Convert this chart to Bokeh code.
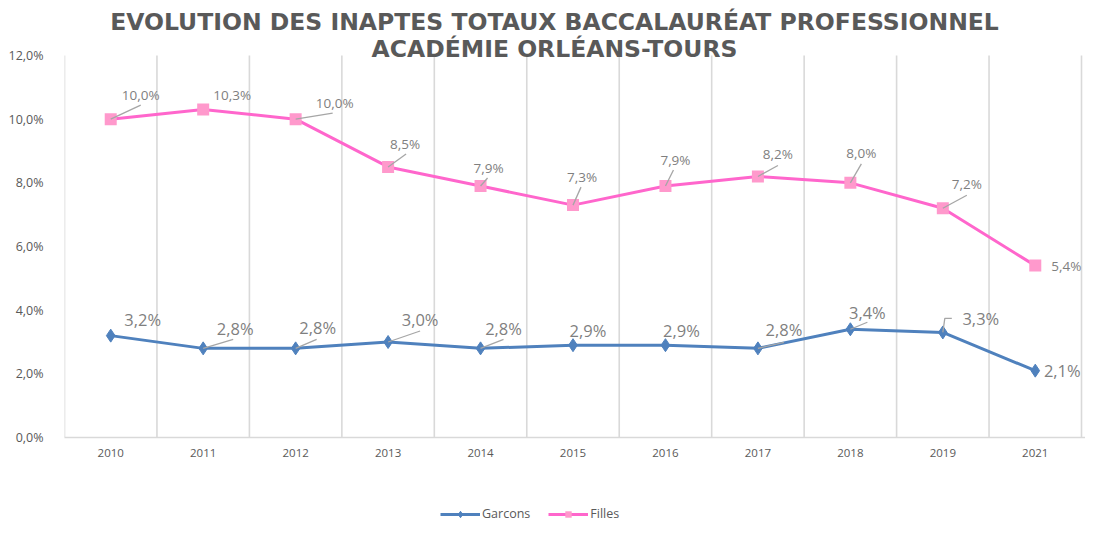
from bokeh.plotting import figure
from bokeh.models import Label, Legend, LegendItem, FixedTicker, Range1d
from bokeh.layouts import column
from bokeh.embed import file_html
from bokeh.resources import INLINE

# ---------------- data ----------------
years = ["2010", "2011", "2012", "2013", "2014", "2015", "2016", "2017", "2018", "2019", "2021"]
garcons = [3.2, 2.8, 2.8, 3.0, 2.8, 2.9, 2.9, 2.8, 3.4, 3.3, 2.1]
filles = [10.0, 10.3, 10.0, 8.5, 7.9, 7.3, 7.9, 8.2, 8.0, 7.2, 5.4]
y_ticks = [0, 2, 4, 6, 8, 10, 12]
y_tick_labels = ["0,0%", "2,0%", "4,0%", "6,0%", "8,0%", "10,0%", "12,0%"]
title_lines = ["EVOLUTION DES INAPTES TOTAUX BACCALAURÉAT PROFESSIONNEL",
               "ACADÉMIE ORLÉANS-TOURS"]
series_names = ["Garcons", "Filles"]

# ---------------- style ----------------
W = 1085
H_MAIN, H_LEG = 470, 53
B_LEFT = 64
AXIS_TOP_PX = 55          # pixel row of the 12 % level
AXIS_BOTTOM_PX = 437      # pixel row of the 0 % level
GRID_RIGHT_PX = 1081      # last category boundary
TITLE_CX = 554
TITLE_CY = [21, 48]
BLUE = "#4f81bd"
PINK_LINE = "#ff66cc"
PINK_MARK = "#ff99cc"
GRID = "#d9d9d9"
TXT = "#595959"
LBL = "#7f7f7f"
LEAD = "#a6a6a6"
FONT = "Open Sans"

# label offsets in screen px (dx right, dy down) relative to the point
pink_label_off = [(30, -24), (29, -15), (39, -16), (17, -23), (8, -18), (9, -28),
                  (10, -26), (20, -22), (11, -30), (24, -24), (31, 0)]
pink_leader = [[(0, 0), (30, -14)], None, [(0, 0), (37, -6)], [(0, 0), (18, -13)],
               [(0, 0), (7, -8)], [(0, 0), (8, -18)], [(0, 0), (8, -16)],
               [(0, 0), (20, -11)], [(0, 0), (11, -19)], [(0, 0), (24, -13)], None]
blue_label_off = [(32, -16), (32, -20), (22, -21), (32, -23), (23, -20), (15, -15),
                  (16, -15), (26, -19), (17, -17), (38, -14), (27, 0)]
blue_leader = [None, [(0, 0), (30, -9)], [(0, 0), (21, -9)], [(0, 0), (32, -11)],
               [(0, 0), (23, -9)], None, None, [(0, 0), (26, -6)], [(0, 0), (17, -7)],
               [(0, 0), (2, -14), (9, -14)], None]

n = len(years)
x = list(range(n))
X0 = -0.5
PXX = (GRID_RIGHT_PX - B_LEFT) / n
X1 = (n - 0.5) + (W - GRID_RIGHT_PX) / PXX
Y0, YTOP = y_ticks[0], y_ticks[-1]
PXY = (AXIS_BOTTOM_PX - AXIS_TOP_PX) / (YTOP - Y0)
Y1 = YTOP + AXIS_TOP_PX / PXY   # frame reaches the top of the figure (title area)


def fmt(v):
    return f"{v:.1f}".replace(".", ",") + "%"


p = figure(width=W, height=H_MAIN, output_backend="svg", toolbar_location=None,
           x_range=Range1d(X0, X1), y_range=Range1d(Y0, Y1),
           min_border_left=B_LEFT, min_border_right=0,
           min_border_top=0, min_border_bottom=H_MAIN - AXIS_BOTTOM_PX)
p.outline_line_color = None
p.background_fill_color = "white"
p.border_fill_color = "white"
p.xgrid.grid_line_color = None
p.ygrid.grid_line_color = None

# vertical separators on category boundaries, from 0 % to 12 %
bounds = [i - 0.5 for i in range(n + 1)]
p.segment(x0=bounds, y0=[Y0] * len(bounds), x1=bounds, y1=[YTOP] * len(bounds),
          line_color=GRID, line_width=1.6)

# x axis
p.xaxis.ticker = FixedTicker(ticks=x)
p.xaxis.major_label_overrides = {i: years[i] for i in x}
p.xaxis.axis_line_color = GRID
p.xaxis.axis_line_width = 1.6
p.xaxis.major_tick_line_color = None
p.xaxis.minor_tick_line_color = None
p.xaxis.major_label_standoff = 5
p.xaxis.major_label_text_font = FONT
p.xaxis.major_label_text_font_size = "11.5px"
p.xaxis.major_label_text_color = TXT

# y axis
p.yaxis.ticker = FixedTicker(ticks=y_ticks)
p.yaxis.major_label_overrides = {t: l for t, l in zip(y_ticks, y_tick_labels)}
p.yaxis.axis_line_color = None
p.yaxis.major_tick_line_color = None
p.yaxis.minor_tick_line_color = None
p.yaxis.major_label_standoff = 15
p.yaxis.major_label_text_font = FONT
p.yaxis.major_label_text_font_size = "12.5px"
p.yaxis.major_label_text_color = TXT

# series
p.line(x, garcons, line_color=BLUE, line_width=3)
p.scatter(x, garcons, marker="diamond", size=13, fill_color=BLUE, line_color=BLUE)
p.line(x, filles, line_color=PINK_LINE, line_width=3)
p.scatter(x, filles, marker="square", size=12, fill_color=PINK_MARK, line_color=None)


def add_labels(values, offs, leaders, size):
    lx, ly = [], []
    for i, v in enumerate(values):
        dx, dy = offs[i]
        p.add_layout(Label(x=i + dx / PXX, y=v - dy / PXY, text=fmt(v),
                           text_align="center", text_baseline="middle",
                           text_font=FONT, text_font_size=size, text_color=LBL))
        if leaders[i]:
            lx.append([i + a / PXX for a, b in leaders[i]])
            ly.append([v - b / PXY for a, b in leaders[i]])
    p.multi_line(lx, ly, line_color=LEAD, line_width=1.3)


add_labels(filles, pink_label_off, pink_leader, "13.5px")
add_labels(garcons, blue_label_off, blue_leader, "16.5px")

# two-line title, inside the (extended) frame above the 12 % level
for line, cy in zip(title_lines, TITLE_CY):
    p.add_layout(Label(x=X0 + (TITLE_CX - B_LEFT) / PXX,
                       y=YTOP + (AXIS_TOP_PX - cy) / PXY,
                       text=line, text_align="center", text_baseline="middle",
                       text_font="DejaVu Sans", text_font_style="bold",
                       text_font_size="23.5px", text_color=TXT))

# legend strip below the chart (its renderers draw the series outside the view)
q = figure(width=W, height=H_LEG, output_backend="svg", toolbar_location=None,
           x_range=Range1d(-3, -2), y_range=Range1d(-3, -2),
           x_axis_type=None, y_axis_type=None,
           min_border_left=0, min_border_right=0, min_border_top=0, min_border_bottom=0)
q.outline_line_color = None
q.xgrid.grid_line_color = None
q.ygrid.grid_line_color = None
lb = q.line(x, garcons, line_color=BLUE, line_width=3)
sb = q.scatter(x, garcons, marker="diamond", size=10, fill_color=BLUE, line_color=BLUE)
lp = q.line(x, filles, line_color=PINK_LINE, line_width=3)
sp = q.scatter(x, filles, marker="square", size=10, fill_color=PINK_MARK, line_color=None)
legend = Legend(items=[LegendItem(label=series_names[0], renderers=[lb, sb]),
                       LegendItem(label=series_names[1], renderers=[lp, sp])],
                orientation="horizontal", location=(376, 1),
                glyph_width=40, glyph_height=16, label_standoff=2, spacing=18,
                padding=0, margin=0, border_line_color=None,
                background_fill_alpha=0,
                label_text_font=FONT, label_text_font_size="12.5px",
                label_text_color=TXT)
q.add_layout(legend, "center")

open("out.html", "w").write(file_html(column(p, q, spacing=0), INLINE))
